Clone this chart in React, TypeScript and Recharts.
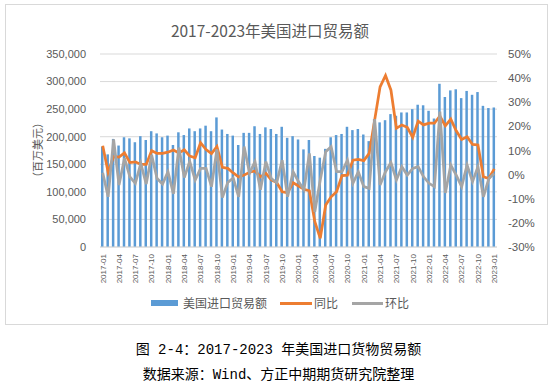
import { Bar, CartesianGrid, ComposedChart, Line, XAxis, YAxis } from "recharts";

const months = [
  "2017-01", "2017-02", "2017-03", "2017-04", "2017-05", "2017-06", "2017-07", "2017-08", "2017-09", "2017-10", "2017-11", "2017-12",
  "2018-01", "2018-02", "2018-03", "2018-04", "2018-05", "2018-06", "2018-07", "2018-08", "2018-09", "2018-10", "2018-11", "2018-12",
  "2019-01", "2019-02", "2019-03", "2019-04", "2019-05", "2019-06", "2019-07", "2019-08", "2019-09", "2019-10", "2019-11", "2019-12",
  "2020-01", "2020-02", "2020-03", "2020-04", "2020-05", "2020-06", "2020-07", "2020-08", "2020-09", "2020-10", "2020-11", "2020-12",
  "2021-01", "2021-02", "2021-03", "2021-04", "2021-05", "2021-06", "2021-07", "2021-08", "2021-09", "2021-10", "2021-11", "2021-12",
  "2022-01", "2022-02", "2022-03", "2022-04", "2022-05", "2022-06", "2022-07", "2022-08", "2022-09", "2022-10", "2022-11", "2022-12",
  "2023-01",
];

// 美国进口贸易额（百万美元）
const imports = [
  182000, 168000, 196000, 184000, 199000, 197000, 190000, 201000, 194000, 210000, 206000, 199000,
  202000, 185000, 208000, 203000, 215000, 210000, 215000, 220000, 210000, 235000, 213000, 205000,
  202000, 185000, 207000, 207000, 219000, 205000, 217000, 214000, 205000, 218000, 198000, 201000,
  195000, 177000, 194000, 165000, 162000, 178000, 199000, 203000, 205000, 218000, 212000, 214000,
  204000, 192000, 232000, 226000, 230000, 241000, 238000, 244000, 244000, 250000, 258000, 257000,
  247000, 233000, 296000, 272000, 284000, 286000, 270000, 283000, 276000, 281000, 256000, 252000,
  253000,
];

// 同比 (%)
const yoy = [
  12, 1, 7.5, 7.3, 9, 5, 5.3, 4.2, 4.2, 9.9, 8.8, 8.8,
  9.3, 10.2, 9, 10.3, 7.7, 7, 13.2, 10.4, 8.7, 11.6, 3, 2.6,
  0.7, -1, -0.2, 1, 1.5, -0.9, 0.5, -2.2, -3.3, -7.1, -7.5, -3.3,
  -4.7, -6.1, -6.7, -19.5, -26.4, -12.6, -9.2, -7.1, -0.4, -0.2, 6, 6.3,
  5.8, 8.8, 22.6, 36.4, 41.1, 35, 19.2, 20.6, 19.6, 15.5, 22.2, 20.6,
  21.3, 21.3, 24.3, 20.2, 23, 18.2, 14.6, 15.7, 12.5, 12.3, -0.9, -1.6,
  2.4,
];

// 环比 (%)
const mom = [
  0.8, -9.2, 14.6, -4.3, 6.8, -0.9, -3.6, 4.7, -3.9, 8.1, -1.6, -3.9,
  1.2, -8, 11.2, -1.2, 5.5, -2.3, 2.6, 2.6, -5, 10.5, -9.5, -3.2,
  -1.4, -9.2, 11.6, 0.6, 5.4, -6.3, 5.4, -1.6, -3.3, 6, -9.2, 1.2,
  -2.9, -6.3, 8.8, -15.4, -2.2, 9.5, 11.6, 1.2, 1.2, 6, -3.6, 1.2,
  -5, -5.7, 23, -4.3, 1.2, 5, -2.2, 3.3, -0.2, 2.6, 3.3, -0.9,
  -3.6, -5, 26.1, -7.6, 4, -0.2, -5, 4, -2.9, 3.3, -9.2, -1.6,
  0.5,
];

const leftTicks = [0, 50000, 100000, 150000, 200000, 250000, 300000, 350000];
const rightTicks = [-30, -20, -10, 0, 10, 20, 30, 40, 50];

const data = months.map((m, i) => ({
  month: m,
  imports: imports[i],
  yoy: yoy[i],
  mom: mom[i],
}));

const gray = "#595959";
const axisFont = "'Liberation Sans', Arial, sans-serif";
const cjkFont = "'Noto Sans CJK SC', sans-serif";

function XTick({ x, y, payload }: any) {
  return (
    <g transform={`translate(${x},${y})`}>
      <text
        transform="rotate(-90)"
        x={-7}
        y={0}
        dy="0.35em"
        textAnchor="end"
        fontSize={8}
        fill={gray}
        fontFamily={axisFont}
      >
        {payload.value}
      </text>
    </g>
  );
}

export default function App() {
  return (
    <div
      style={{
        position: "absolute",
        left: 0,
        top: 0,
        width: 557,
        height: 388,
        background: "#fff",
        overflow: "hidden",
      }}
    >
      <div
        style={{
          position: "absolute",
          left: 5,
          top: 4,
          width: 541,
          height: 319,
          border: "1px solid #d9d9d9",
        }}
      />
      <div
        style={{
          position: "absolute",
          left: 0,
          width: 540,
          top: 19,
          textAlign: "center",
          fontFamily: cjkFont,
          fontSize: 15.5,
          color: gray,
        }}
      >
        2017-2023年美国进口贸易额
      </div>
      <div
        style={{
          position: "absolute",
          left: 37,
          top: 150,
          transform: "translate(-50%, -50%) rotate(-90deg)",
          whiteSpace: "nowrap",
          fontFamily: cjkFont,
          fontSize: 11,
          color: gray,
        }}
      >
        （百万美元）
      </div>
      <div style={{ position: "absolute", left: 0, top: 0 }}>
        <ComposedChart
          width={557}
          height={330}
          data={data}
          margin={{ top: 54, right: 0, bottom: 43, left: 0 }}
          barSize={2.5}
        >
          <CartesianGrid yAxisId="left" vertical={false} stroke="#d9d9d9" />
          <XAxis
            dataKey="month"
            interval={2}
            height={40}
            tickLine={false}
            tickSize={0}
            tickMargin={0}
            axisLine={{ stroke: "#d9d9d9" }}
            tick={<XTick />}
          />
          <YAxis
            yAxisId="left"
            width={100}
            domain={[0, 350000]}
            ticks={leftTicks}
            axisLine={false}
            tickLine={false}
            tickSize={0}
            tickMargin={14}
            tick={{ fontSize: 11, fill: gray, fontFamily: axisFont }}
            tickFormatter={(v: number) => v.toLocaleString("en-US")}
          />
          <YAxis
            yAxisId="right"
            orientation="right"
            width={60}
            domain={[-30, 50]}
            ticks={rightTicks}
            axisLine={false}
            tickLine={false}
            tickSize={0}
            tickMargin={11}
            tick={{ fontSize: 11.5, fill: gray, fontFamily: axisFont }}
            tickFormatter={(v: number) => `${v}%`}
          />
          <Bar
            yAxisId="left"
            dataKey="imports"
            name="美国进口贸易额"
            fill="#5B9BD5"
            isAnimationActive={false}
          />
          <Line
            yAxisId="right"
            type="linear"
            dataKey="yoy"
            name="同比"
            stroke="#ED7D31"
            strokeWidth={2.75}
            dot={false}
            isAnimationActive={false}
          />
          <Line
            yAxisId="right"
            type="linear"
            dataKey="mom"
            name="环比"
            stroke="#A5A5A5"
            strokeWidth={2.75}
            dot={false}
            isAnimationActive={false}
          />
        </ComposedChart>
      </div>
      <div
        style={{
          position: "absolute",
          left: 0,
          top: 294,
          width: 557,
          height: 18,
          fontFamily: cjkFont,
          fontSize: 12,
          color: gray,
        }}
      >
        <div style={{ position: "absolute", left: 151, top: 6, width: 27, height: 6, background: "#5B9BD5" }} />
        <div style={{ position: "absolute", left: 183, top: 0, lineHeight: "18px" }}>美国进口贸易额</div>
        <div style={{ position: "absolute", left: 280, top: 8, width: 32, height: 3, background: "#ED7D31" }} />
        <div style={{ position: "absolute", left: 314, top: 0, lineHeight: "18px" }}>同比</div>
        <div style={{ position: "absolute", left: 352, top: 8, width: 31, height: 3, background: "#A5A5A5" }} />
        <div style={{ position: "absolute", left: 385, top: 0, lineHeight: "18px" }}>环比</div>
      </div>
      <div
        style={{
          position: "absolute",
          left: 0,
          width: 557,
          top: 338,
          textAlign: "center",
          fontFamily: "'Liberation Mono', 'Noto Sans CJK SC', monospace",
          fontSize: 14,
          lineHeight: "25px",
          color: "#000",
        }}
      >
        <div>图 2-4：2017-2023 年美国进口货物贸易额</div>
        <div>数据来源：Wind、方正中期期货研究院整理</div>
      </div>
    </div>
  );
}
